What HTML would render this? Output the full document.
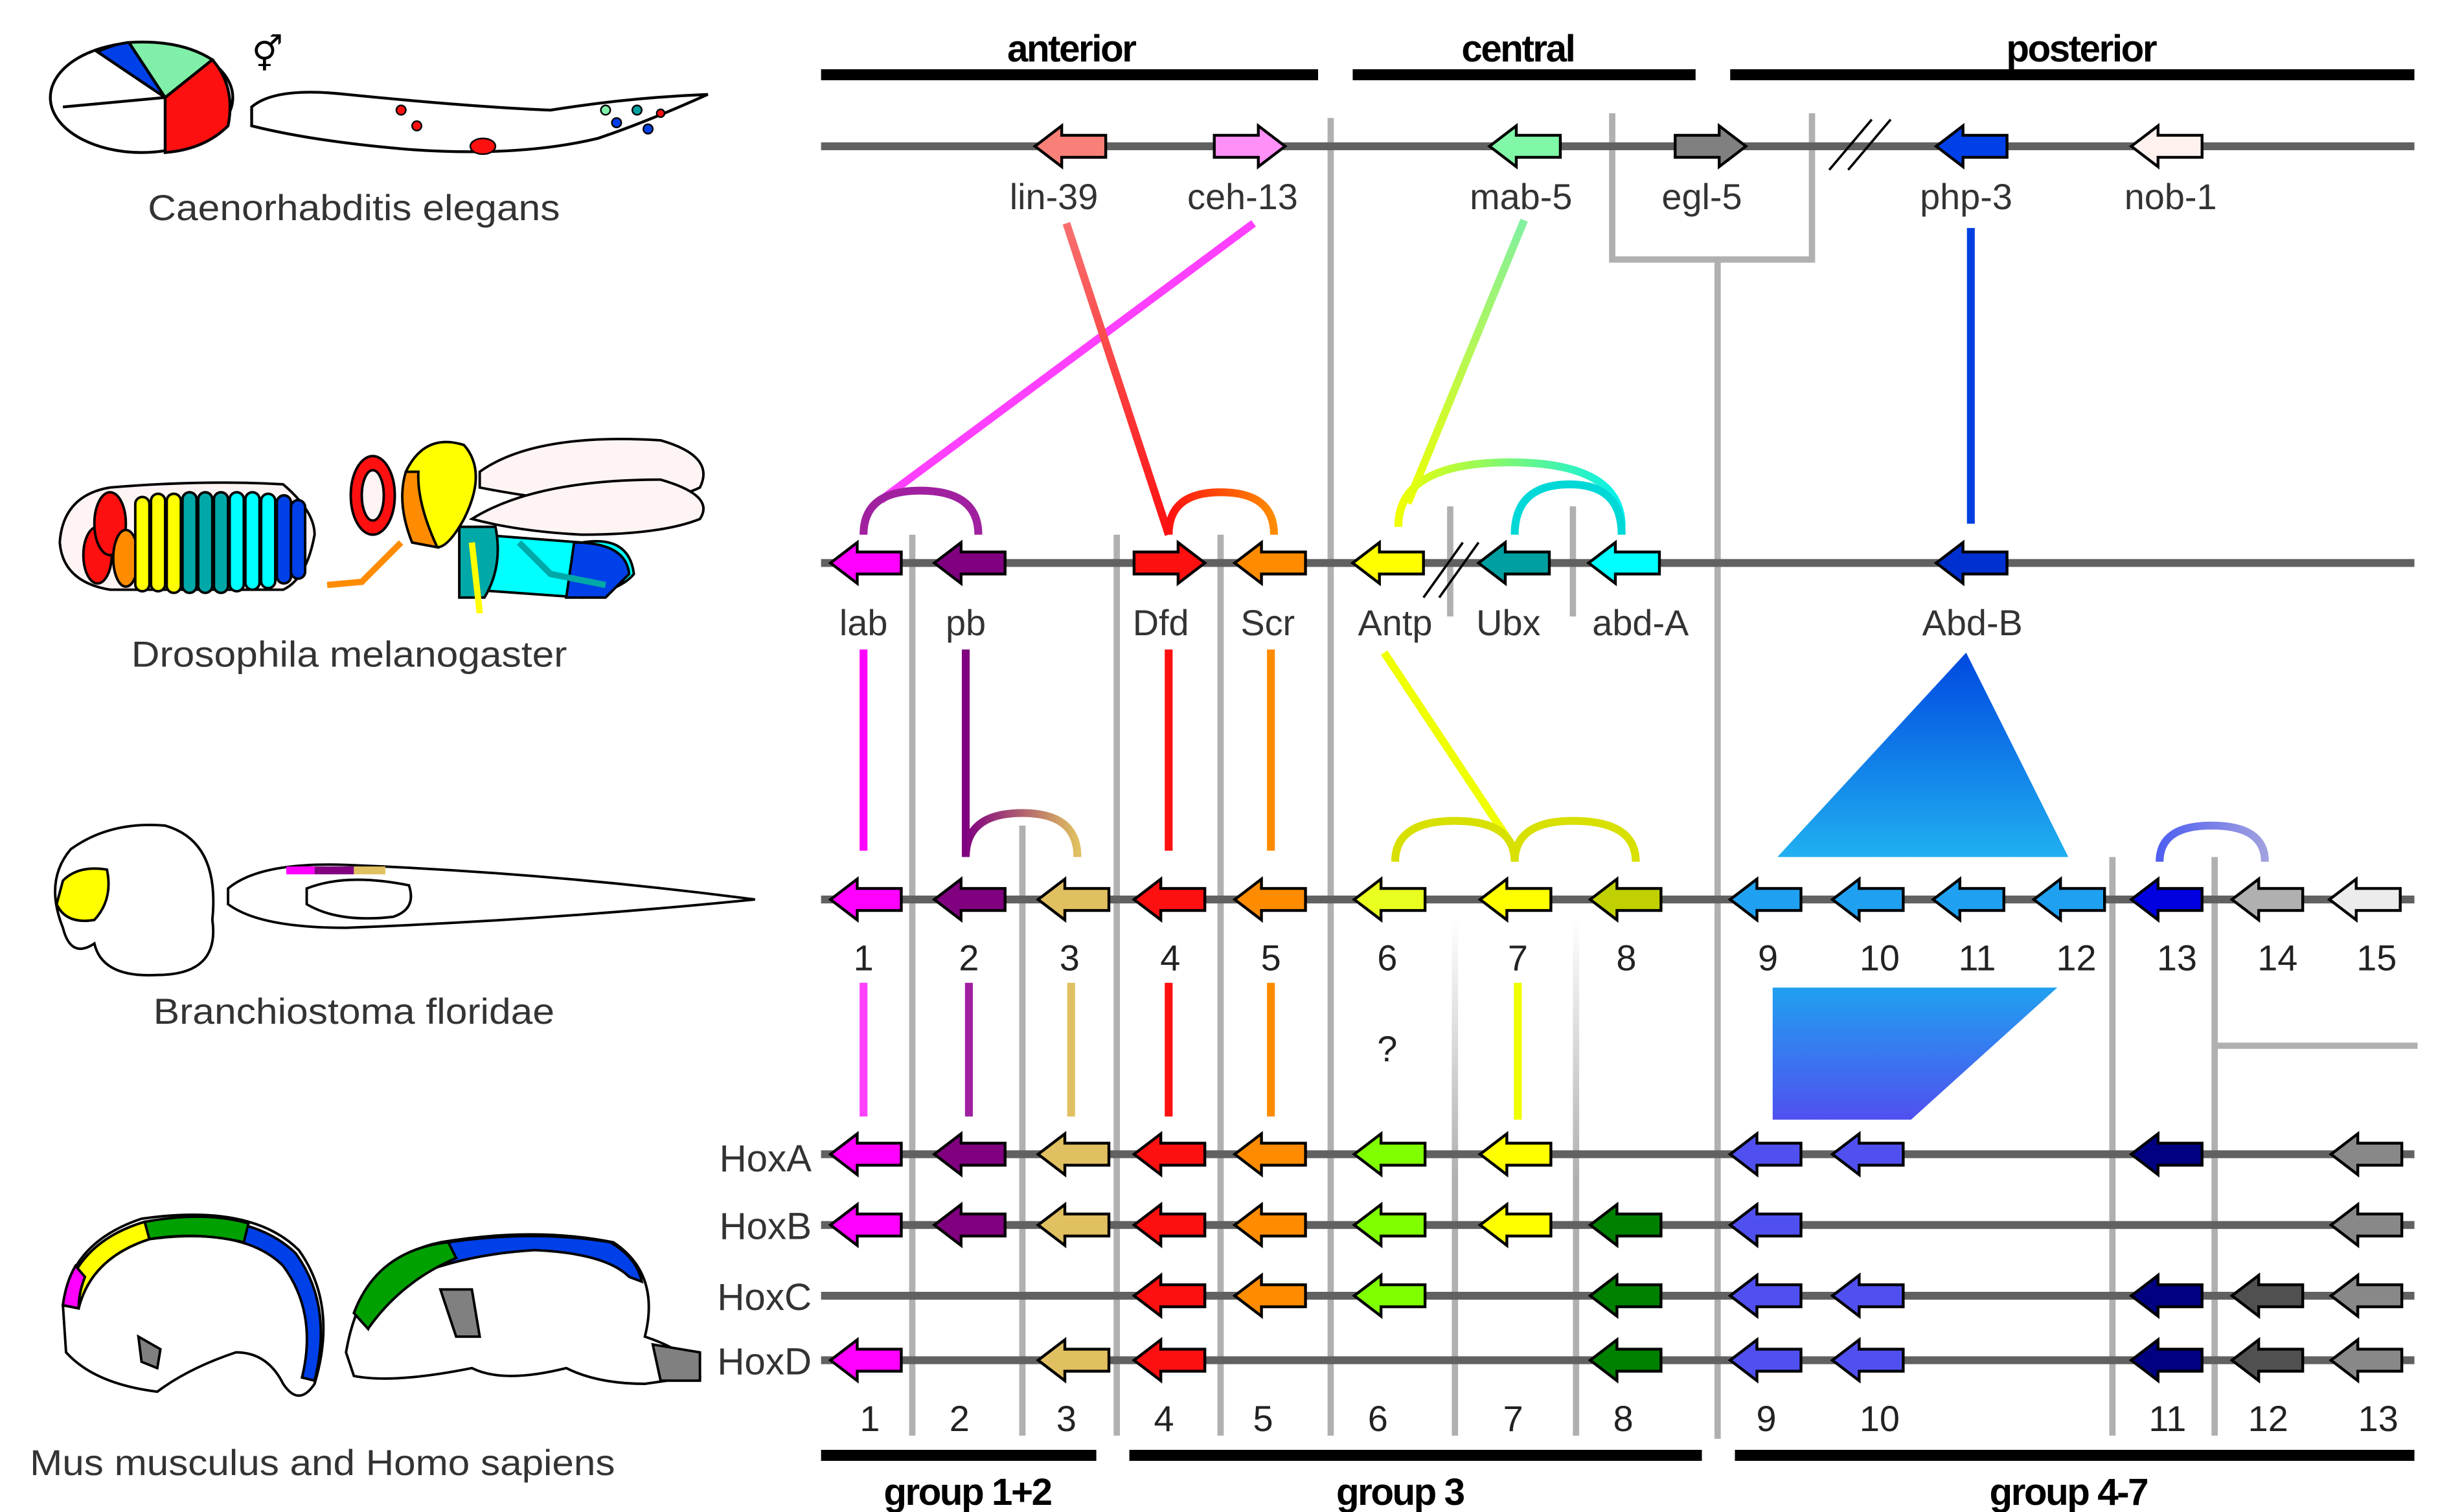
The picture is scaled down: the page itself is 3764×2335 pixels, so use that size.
<!DOCTYPE html>
<html><head><meta charset="utf-8"><style>
html,body{margin:0;padding:0;background:#fff}
svg{display:block}
text{font-family:"Liberation Sans",sans-serif}
.g{font-size:23px;fill:#333;text-anchor:middle}
.b{font-size:24px;font-weight:bold;fill:#000;text-anchor:middle;letter-spacing:-1px}
.sp{font-size:23px;fill:#333;text-anchor:middle}
.n{font-size:23px;fill:#222;text-anchor:middle}
.h{font-size:24px;fill:#333;text-anchor:end}
</style></head><body>
<svg width="3764" height="2335" viewBox="0 0 1550 961.5" xmlns="http://www.w3.org/2000/svg">
<defs>
<path id="L" d="M-23,0 L-6,-13 L-6,-7 L22,-7 L22,7 L-6,7 L-6,13 Z" stroke="#000" stroke-width="1.8" stroke-linejoin="miter"/>
<path id="R" d="M23,0 L6,-13 L6,-7 L-22,-7 L-22,7 L6,7 L6,13 Z" stroke="#000" stroke-width="1.8"/>
<linearGradient id="tri" x1="0" y1="0" x2="0" y2="1"><stop offset="0" stop-color="#0048e0"/><stop offset="1" stop-color="#20b0f0"/></linearGradient>
<linearGradient id="par" x1="0" y1="0" x2="0" y2="1"><stop offset="0" stop-color="#20a0f0"/><stop offset="1" stop-color="#5050f0"/></linearGradient>
<linearGradient id="lin" x1="0" y1="0" x2="0" y2="1"><stop offset="0" stop-color="#f87070"/><stop offset="1" stop-color="#ff1010"/></linearGradient>
<linearGradient id="mab" x1="0" y1="0" x2="0" y2="1"><stop offset="0" stop-color="#80f0a0"/><stop offset="1" stop-color="#f0ff00"/></linearGradient>
<linearGradient id="ac" x1="0" y1="0" x2="1" y2="0"><stop offset="0" stop-color="#f0ff00"/><stop offset="1" stop-color="#00f0f0"/></linearGradient>
<linearGradient id="pa" x1="0" y1="0" x2="1" y2="0"><stop offset="0" stop-color="#800080"/><stop offset="1" stop-color="#e0c060"/></linearGradient>
<linearGradient id="dr" x1="0" y1="0" x2="1" y2="0"><stop offset="0" stop-color="#ff1010"/><stop offset="1" stop-color="#ff8c00"/></linearGradient>
<linearGradient id="ol" x1="0" y1="0" x2="0" y2="1"><stop offset="0" stop-color="#c0d000"/><stop offset="1" stop-color="#00a000"/></linearGradient>
<linearGradient id="bl" x1="0" y1="0" x2="0" y2="1"><stop offset="0" stop-color="#0000e0"/><stop offset="1" stop-color="#000080"/></linearGradient>
<linearGradient id="fade" x1="0" y1="0" x2="0" y2="1"><stop offset="0" stop-color="#fff"/><stop offset="0.5" stop-color="#b0b0b0"/></linearGradient>
<linearGradient id="ab" x1="0" y1="0" x2="1" y2="0"><stop offset="0" stop-color="#5060f0"/><stop offset="1" stop-color="#a0a0e0"/></linearGradient>
</defs>

<g fill="#000">
<rect x="522" y="44" width="316" height="7"/><rect x="860" y="44" width="218" height="7"/><rect x="1100" y="44" width="435" height="7"/>
<rect x="522" y="922" width="175" height="7"/><rect x="718" y="922" width="364" height="7"/><rect x="1103" y="922" width="432" height="7"/>
</g>
<text class="b" x="681" y="39">anterior</text><text class="b" x="965" y="39">central</text><text class="b" x="1323" y="39">posterior</text>
<text class="b" x="615" y="957">group 1+2</text><text class="b" x="890" y="957">group 3</text><text class="b" x="1315" y="957">group 4-7</text>

<g stroke="#b0b0b0" stroke-width="4" fill="none">
<line x1="846" y1="75" x2="846" y2="913"/>
<path d="M1025,72 V165 H1152 V72"/>
<line x1="1092" y1="165" x2="1092" y2="915"/>
<line x1="580" y1="340" x2="580" y2="913"/>
<line x1="710" y1="340" x2="710" y2="913"/>
<line x1="776" y1="340" x2="776" y2="913"/>
<line x1="922" y1="322" x2="922" y2="392"/>
<line x1="1000" y1="322" x2="1000" y2="392"/>
<line x1="650" y1="525" x2="650" y2="913"/>
<line x1="1343" y1="545" x2="1343" y2="913"/>
<line x1="1408" y1="545" x2="1408" y2="913"/>
<line x1="1408" y1="665" x2="1537" y2="665"/>
</g>
<rect x="923" y="585" width="4" height="328" fill="url(#fade)"/>
<rect x="1000" y="585" width="4" height="328" fill="url(#fade)"/>

<g fill="#616161">
<rect x="522" y="90.5" width="1013" height="5"/>
<rect x="522" y="355.5" width="1013" height="5"/>
<rect x="522" y="569.5" width="1013" height="5"/>
<rect x="522" y="731.5" width="1013" height="5"/>
<rect x="522" y="776.5" width="1013" height="5"/>
<rect x="522" y="821.5" width="1013" height="5"/>
<rect x="522" y="862.5" width="1013" height="5"/>
</g>
<g stroke="#000" stroke-width="1.5"><line x1="1163" y1="108" x2="1190" y2="76"/><line x1="1175" y1="108" x2="1202" y2="76"/>
<line x1="905" y1="380" x2="930" y2="345"/><line x1="915" y1="380" x2="940" y2="345"/></g>

<g fill="none" stroke-width="5">
<line x1="797" y1="142" x2="560" y2="318" stroke="#ff40ff"/>
<path d="M549,340 Q549,312 585,312 Q622,312 622,340" stroke="#a020a0"/>
<line x1="678" y1="142" x2="743" y2="340" stroke="url(#lin)"/>
<path d="M743,340 Q743,313 776,313 Q810,313 810,340" stroke="url(#dr)"/>
<line x1="969" y1="140" x2="895" y2="320" stroke="url(#mab)"/>
<path d="M889,335 Q889,294 960,294 Q1031,294 1031,335" stroke="url(#ac)"/>
<path d="M963,340 Q963,308 998,308 Q1031,308 1031,340" stroke="#00d8d8"/>
<line x1="1253" y1="145" x2="1253" y2="333" stroke="#0040e0"/>
<line x1="549" y1="413" x2="549" y2="541" stroke="#ff00ff"/>
<path d="M614,413 V545 Q614,517 650,517 Q685,517 685,545" stroke="url(#pa)"/>
<line x1="743" y1="413" x2="743" y2="541" stroke="#ff1010"/>
<line x1="808" y1="413" x2="808" y2="541" stroke="#ff8c00"/>
<line x1="880" y1="415" x2="963" y2="540" stroke="#f0ff00"/>
<path d="M887,548 Q887,522 925,522 Q963,522 963,548 Q963,522 1000,522 Q1040,522 1040,548" stroke="#d8e000"/>
<path d="M1373,548 Q1373,525 1406,525 Q1440,525 1440,548" stroke="url(#ab)"/>
<line x1="549" y1="625" x2="549" y2="710" stroke="#ff40ff"/>
<line x1="616" y1="625" x2="616" y2="710" stroke="#a020a0"/>
<line x1="681" y1="625" x2="681" y2="710" stroke="#e0c060"/>
<line x1="743" y1="625" x2="743" y2="710" stroke="#ff1010"/>
<line x1="808" y1="625" x2="808" y2="710" stroke="#ff8c00"/>
<line x1="965" y1="625" x2="965" y2="712" stroke="#f0ff00"/>
<line x1="1035" y1="625" x2="1035" y2="715" stroke="url(#ol)"/>
<line x1="1382" y1="628" x2="1382" y2="710" stroke="url(#bl)"/>
</g>
<polygon points="1250,415 1130,545 1315,545" fill="url(#tri)"/>
<polygon points="1127,628 1308,628 1215,712 1127,712" fill="url(#par)"/>
<text x="882" y="675" class="n" font-size="26">?</text>

<use href="#L" x="681" y="93" fill="#f88078"/>
<use href="#R" x="794" y="93" fill="#ff90f8"/>
<use href="#L" x="970" y="93" fill="#80f8a8"/>
<use href="#R" x="1087" y="93" fill="#808080"/>
<use href="#L" x="1254" y="93" fill="#0040e8"/>
<use href="#L" x="1378" y="93" fill="#fff2ee"/>
<g class="g"><text x="670" y="133">lin-39</text><text x="790" y="133">ceh-13</text><text x="967" y="133">mab-5</text><text x="1082" y="133">egl-5</text><text x="1250" y="133">php-3</text><text x="1380" y="133">nob-1</text></g>

<use href="#L" x="551" y="358" fill="#ff00ff"/>
<use href="#L" x="617" y="358" fill="#800080"/>
<use href="#R" x="743" y="358" fill="#ff1010"/>
<use href="#L" x="808" y="358" fill="#ff8c00"/>
<use href="#L" x="883" y="358" fill="#ffff00"/>
<use href="#L" x="963" y="358" fill="#00a0a0"/>
<use href="#L" x="1033" y="358" fill="#00ffff"/>
<use href="#L" x="1254" y="358" fill="#0030d0"/>
<g class="g"><text x="549" y="404">lab</text><text x="614" y="404">pb</text><text x="738" y="404">Dfd</text><text x="806" y="404">Scr</text><text x="887" y="404">Antp</text><text x="959" y="404">Ubx</text><text x="1043" y="404">abd-A</text><text x="1254" y="404">Abd-B</text></g>

<use href="#L" x="551" y="572" fill="#ff00ff"/>
<use href="#L" x="617" y="572" fill="#800080"/>
<use href="#L" x="683" y="572" fill="#e0c060"/>
<use href="#L" x="744" y="572" fill="#ff1010"/>
<use href="#L" x="808" y="572" fill="#ff8c00"/>
<use href="#L" x="884" y="572" fill="#e8ff20"/>
<use href="#L" x="964" y="572" fill="#ffff00"/>
<use href="#L" x="1034" y="572" fill="#c0d000"/>
<use href="#L" x="1123" y="572" fill="#20a0f0"/>
<use href="#L" x="1188" y="572" fill="#20a0f0"/>
<use href="#L" x="1252" y="572" fill="#20a0f0"/>
<use href="#L" x="1316" y="572" fill="#20a0f0"/>
<use href="#L" x="1378" y="572" fill="#0000e0"/>
<use href="#L" x="1442" y="572" fill="#b0b0b0"/>
<use href="#L" x="1504" y="572" fill="#ececec"/>
<g class="n"><text x="549" y="617">1</text><text x="616" y="617">2</text><text x="680" y="617">3</text><text x="744" y="617">4</text><text x="808" y="617">5</text><text x="882" y="617">6</text><text x="965" y="617">7</text><text x="1034" y="617">8</text><text x="1124" y="617">9</text><text x="1195" y="617">10</text><text x="1257" y="617">11</text><text x="1320" y="617">12</text><text x="1384" y="617">13</text><text x="1448" y="617">14</text><text x="1511" y="617">15</text></g>

<g class="h"><text x="516" y="745">HoxA</text><text x="516" y="788">HoxB</text><text x="516" y="833">HoxC</text><text x="516" y="874">HoxD</text></g>
<use href="#L" x="551" y="734" fill="#ff00ff"/><use href="#L" x="617" y="734" fill="#800080"/><use href="#L" x="683" y="734" fill="#e0c060"/><use href="#L" x="744" y="734" fill="#ff1010"/><use href="#L" x="808" y="734" fill="#ff8c00"/><use href="#L" x="884" y="734" fill="#80ff00"/><use href="#L" x="964" y="734" fill="#ffff00"/><use href="#L" x="1123" y="734" fill="#5050f0"/><use href="#L" x="1188" y="734" fill="#5050f0"/><use href="#L" x="1378" y="734" fill="#000080"/><use href="#L" x="1505" y="734" fill="#888"/>
<use href="#L" x="551" y="779" fill="#ff00ff"/><use href="#L" x="617" y="779" fill="#800080"/><use href="#L" x="683" y="779" fill="#e0c060"/><use href="#L" x="744" y="779" fill="#ff1010"/><use href="#L" x="808" y="779" fill="#ff8c00"/><use href="#L" x="884" y="779" fill="#80ff00"/><use href="#L" x="964" y="779" fill="#ffff00"/><use href="#L" x="1034" y="779" fill="#008000"/><use href="#L" x="1123" y="779" fill="#5050f0"/><use href="#L" x="1505" y="779" fill="#888"/>
<use href="#L" x="744" y="824" fill="#ff1010"/><use href="#L" x="808" y="824" fill="#ff8c00"/><use href="#L" x="884" y="824" fill="#80ff00"/><use href="#L" x="1034" y="824" fill="#008000"/><use href="#L" x="1123" y="824" fill="#5050f0"/><use href="#L" x="1188" y="824" fill="#5050f0"/><use href="#L" x="1378" y="824" fill="#000080"/><use href="#L" x="1442" y="824" fill="#505050"/><use href="#L" x="1505" y="824" fill="#888"/>
<use href="#L" x="551" y="865" fill="#ff00ff"/><use href="#L" x="683" y="865" fill="#e0c060"/><use href="#L" x="744" y="865" fill="#ff1010"/><use href="#L" x="1034" y="865" fill="#008000"/><use href="#L" x="1123" y="865" fill="#5050f0"/><use href="#L" x="1188" y="865" fill="#5050f0"/><use href="#L" x="1378" y="865" fill="#000080"/><use href="#L" x="1442" y="865" fill="#505050"/><use href="#L" x="1505" y="865" fill="#888"/>
<g class="n"><text x="553" y="910">1</text><text x="610" y="910">2</text><text x="678" y="910">3</text><text x="740" y="910">4</text><text x="803" y="910">5</text><text x="876" y="910">6</text><text x="962" y="910">7</text><text x="1032" y="910">8</text><text x="1123" y="910">9</text><text x="1195" y="910">10</text><text x="1378" y="910">11</text><text x="1442" y="910">12</text><text x="1512" y="910">13</text></g>

<text class="sp" x="225" y="140" textLength="262" lengthAdjust="spacingAndGlyphs">Caenorhabditis elegans</text>
<text class="sp" x="222" y="424" textLength="277" lengthAdjust="spacingAndGlyphs">Drosophila melanogaster</text>
<text class="sp" x="225" y="651" textLength="255" lengthAdjust="spacingAndGlyphs">Branchiostoma floridae</text>
<text class="sp" x="205" y="938" textLength="372" lengthAdjust="spacingAndGlyphs">Mus musculus and Homo sapiens</text>

<g stroke="#000" stroke-width="1.8">
<ellipse cx="90" cy="62" rx="58" ry="35" fill="#fff"/>
<path d="M105,62 L82,27 Q72,28 62,33 Z" fill="#0040e8"/>
<path d="M105,62 L82,27 Q115,25 135,38 Z" fill="#80f0a8"/>
<path d="M105,62 L135,38 Q150,55 145,80 Q130,95 105,97 Z" fill="#ff1010"/>
<path d="M40,68 L105,62" fill="none"/>
<path d="M160,68 Q175,55 220,60 Q300,68 350,70 Q400,62 450,60 Q410,78 380,88 Q330,100 260,95 Q200,90 160,80 Z" fill="#fff"/>
</g>
<text x="170" y="42" font-size="22" fill="#000" text-anchor="middle">⚥</text>
<g stroke="#000" stroke-width="1"><ellipse cx="307" cy="93" rx="8" ry="5" fill="#ff1010"/><circle cx="255" cy="70" r="3" fill="#ff1010"/><circle cx="265" cy="80" r="3" fill="#ff1010"/><circle cx="392" cy="78" r="3" fill="#0040e8"/><circle cx="405" cy="70" r="3" fill="#00a0a0"/><circle cx="412" cy="82" r="3" fill="#0040e8"/><circle cx="385" cy="70" r="3" fill="#80f0a8"/><circle cx="420" cy="72" r="2.5" fill="#ff1010"/></g>

<g stroke="#000" stroke-width="1.6">
<path d="M38,345 Q40,315 70,310 Q130,305 180,308 Q200,325 200,340 Q195,368 180,375 L70,375 Q40,370 38,345 Z" fill="#fff4f4"/>
<ellipse cx="62" cy="353" rx="9" ry="18" fill="#ff1010"/>
<ellipse cx="70" cy="333" rx="10" ry="20" fill="#ff1010"/>
<ellipse cx="80" cy="355" rx="8" ry="18" fill="#ff8c00"/>
<rect x="86" y="316" width="9" height="60" rx="4.5" fill="#ffff00"/><rect x="96" y="314" width="9" height="62" rx="4.5" fill="#ffff00"/><rect x="106" y="314" width="9" height="63" rx="4.5" fill="#ffff00"/>
<rect x="116" y="313" width="9" height="64" rx="4.5" fill="#00a8a8"/><rect x="126" y="313" width="9" height="64" rx="4.5" fill="#00a8a8"/><rect x="136" y="313" width="9" height="64" rx="4.5" fill="#00a8a8"/>
<rect x="146" y="313" width="9" height="63" rx="4.5" fill="#00ffff"/><rect x="156" y="313" width="9" height="62" rx="4.5" fill="#00ffff"/><rect x="166" y="314" width="9" height="60" rx="4.5" fill="#00ffff"/>
<rect x="176" y="315" width="9" height="56" rx="4.5" fill="#0040e8"/><rect x="185" y="318" width="9" height="50" rx="4.5" fill="#0040e8"/>
<path d="M370,345 Q400,340 403,365 Q395,375 370,380 L300,375 Q290,350 305,340 Z" fill="#00ffff"/>
<path d="M365,345 Q398,345 400,365 L385,380 L360,380 Z" fill="#0040e8"/>
<path d="M292,335 L315,335 Q320,360 308,380 L292,380 Z" fill="#00a8a8"/>
<path d="M305,300 Q340,275 420,280 Q455,290 445,310 Q420,322 370,320 Q330,315 305,310 Z" fill="#fff4f4"/>
<path d="M300,330 Q340,305 420,305 Q455,315 445,330 Q420,340 370,340 Q330,338 300,330 Z" fill="#fff4f4"/>
<path d="M258,300 Q270,275 295,283 Q310,300 295,330 Q285,348 278,348 Q268,345 262,330 Z" fill="#ffff00"/>
<path d="M258,300 Q252,320 262,345 L278,348 Q265,320 266,300 Z" fill="#ff8c00"/>
<ellipse cx="237" cy="315" rx="14" ry="25" fill="#ff1010"/>
<ellipse cx="237" cy="315" rx="7" ry="16" fill="#fff4f4"/>
</g>
<g stroke="#000" stroke-width="0.8" fill="none">
<path d="M255,345 L230,370 L208,372" stroke="#ff8c00" stroke-width="4"/>
<path d="M300,345 L305,390" stroke="#ffff00" stroke-width="4"/>
<path d="M330,345 L350,365 L385,372" stroke="#00a8a8" stroke-width="4"/>
</g>

<g stroke="#000" stroke-width="1.6">
<path d="M135,585 Q140,620 100,620 Q65,622 60,600 Q45,610 40,590 Q28,560 45,540 Q70,522 105,525 Q140,535 135,585 Z" fill="#fff"/>
<path d="M40,560 Q50,550 68,553 Q72,572 60,585 Q42,588 36,575 Z" fill="#ffff00"/>
<path d="M145,565 Q165,548 220,550 Q350,555 480,572 Q350,585 220,590 Q165,590 145,575 Z" fill="#fff"/>
<path d="M195,565 Q220,555 260,563 Q265,578 250,583 Q215,587 195,575 Z" fill="#fff"/>
</g>
<rect x="182" y="551" width="18" height="5" fill="#ff00ff"/><rect x="200" y="551" width="25" height="5" fill="#800080"/><rect x="225" y="551" width="20" height="5" fill="#e0c060"/>

<g stroke="#000" stroke-width="1.6">
<path d="M40,830 Q45,790 90,775 Q160,765 190,795 Q215,830 200,880 Q190,895 180,880 Q170,860 150,860 Q120,870 100,885 Q60,880 42,860 Z" fill="#fff"/>
<path d="M40,830 Q48,790 92,777 Q158,768 188,797 Q212,830 200,878 L192,876 Q202,835 180,805 Q155,780 95,788 Q58,800 50,832 Z" fill="#0040e8"/>
<path d="M40,830 Q48,790 92,777 L95,788 Q58,800 50,832 Z" fill="#ffff00"/>
<path d="M40,830 Q42,815 48,805 L54,812 Q50,822 50,832 Z" fill="#ff00ff"/>
<path d="M92,777 Q130,770 158,778 L155,790 Q125,783 95,788 Z" fill="#00a000"/>
<path d="M88,850 L102,858 L100,870 L90,866 Z" fill="#808080"/>
<path d="M220,860 Q230,800 280,790 Q340,780 390,790 Q420,810 410,850 Q440,860 445,875 L410,880 Q380,880 360,870 Q320,880 300,870 Q250,880 225,875 Z" fill="#fff"/>
<path d="M225,835 Q240,795 285,790 Q340,782 388,790 Q405,800 408,815 L400,812 Q385,797 340,795 Q290,798 255,815 Q238,830 234,845 Z" fill="#0040e8"/>
<path d="M225,835 Q240,795 285,790 L290,800 Q255,815 234,845 Z" fill="#00a000"/>
<path d="M280,820 L300,820 L305,850 L290,850 Z" fill="#808080"/>
<path d="M415,855 L445,860 L445,878 L420,878 Z" fill="#808080"/>
</g>
</svg>
</body></html>
